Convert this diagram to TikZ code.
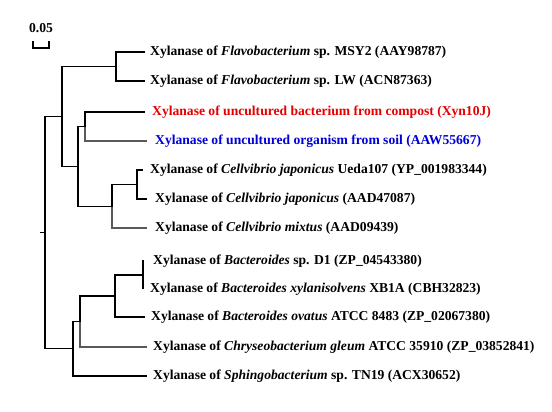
\documentclass[tikz,border=0pt]{standalone}
\usepackage{fontspec}
\setmainfont{Liberation Serif}
\usepackage{tikz}
\usetikzlibrary{calc}
\usetikzlibrary{positioning}
\tikzstyle{leaf} = [anchor=west, inner sep=0pt, font=\fontsize{13.6}{16}\selectfont\bfseries]
\tikzstyle{branch} = [draw, line width=1.3pt]
\tikzstyle{faint} = [draw, line width=1.3pt, black!65]
\tikzstyle{inner} = [coordinate]

\begin{document}
\begin{tikzpicture}[x=1pt, y=-1pt]
      \useasboundingbox (0,0) rectangle (552,412);

      \node [leaf] (msy) at (150,52) {Xylanase of \textit{Flavobacterium} sp. MSY2 (AAY98787)};
      \node [leaf] (lw) at (150,81) {Xylanase of \textit{Flavobacterium} sp. LW (ACN87363)};
      \node [leaf, red!90!black] (compost) at (152,112) {Xylanase of uncultured bacterium from compost (Xyn10J)};
      \node [leaf, blue!85!black] (soil) at (155,141) {Xylanase of uncultured organism from soil (AAW55667)};
      \node [leaf] (ueda) at (150,170) {Xylanase of \textit{Cellvibrio japonicus} Ueda107 (YP\_001983344)};
      \node [leaf] (japon) at (155,199) {Xylanase of \textit{Cellvibrio japonicus} (AAD47087)};
      \node [leaf] (mixtus) at (155,228) {Xylanase of \textit{Cellvibrio mixtus} (AAD09439)};
      \node [leaf] (bactd) at (153,261) {Xylanase of \textit{Bacteroides} sp. D1 (ZP\_04543380)};
      \node [leaf] (xylan) at (150,289) {Xylanase of \textit{Bacteroides xylanisolvens} XB1A (CBH32823)};
      \node [leaf] (ovatus) at (151,317) {Xylanase of \textit{Bacteroides ovatus} ATCC 8483 (ZP\_02067380)};
      \node [leaf] (gleum) at (153,347) {Xylanase of \textit{Chryseobacterium gleum} ATCC 35910 (ZP\_03852841)};
      \node [leaf] (sphingo) at (153,376) {Xylanase of \textit{Sphingobacterium} sp. TN19 (ACX30652)};

      \node [inner] (flavo) at (116,66.5) {};
      \node [inner] (uncult) at (85,126.5) {};
      \node [inner] (cjap) at (137,184.5) {};
      \node [inner] (cellv) at (112,206.5) {};
      \node [inner] (mid) at (78,166.5) {};
      \node [inner] (upper) at (62,116.5) {};
      \node [inner] (bsp) at (143,275) {};
      \node [inner] (bact) at (115,296) {};
      \node [inner] (chry) at (80,321.5) {};
      \node [inner] (lower) at (73,348.5) {};
      \node [inner] (root) at (45,232.5) {};
      \node [inner, left=5pt of root] (stub) {};

      \draw [branch] (flavo) |- ($(msy.west)+(-5,0)$);
      \draw [branch] (flavo) |- ($(lw.west)+(-5,0)$);
      \draw [branch] (uncult) |- ($(compost.west)+(-7,0)$);
      \draw [faint] (uncult) |- ($(soil.west)+(-8,0)$);
      \draw [branch] (cjap) |- ($(ueda.west)+(-7,0)$);
      \draw [branch] (cjap) |- ($(japon.west)+(-8,0)$);
      \draw [branch] (cellv) |- (cjap);
      \draw [faint] (cellv) |- ($(mixtus.west)+(-8,0)$);
      \draw [branch] (mid) |- (uncult);
      \draw [branch] (mid) |- (cellv);
      \draw [branch] (upper) |- (flavo);
      \draw [branch] (upper) |- (mid);
      \draw [branch] (bsp) |- ($(bactd.west)+(-9,0)$);
      \draw [branch] (bsp) |- ($(xylan.west)+(-7,0)$);
      \draw [branch] (bact) |- (bsp);
      \draw [branch] (bact) |- ($(ovatus.west)+(-6,0)$);
      \draw [branch] (chry) |- (bact);
      \draw [faint] (chry) |- ($(gleum.west)+(-6,0)$);
      \draw [branch] (lower) |- (chry);
      \draw [branch] (lower) |- ($(sphingo.west)+(-6,0)$);
      \draw [branch] (root) |- (upper);
      \draw [branch] (root) |- (lower);
      \draw [branch] (stub) -- (root);

      \node [inner] (barl) at (33,48) {};
      \node [inner] (barr) at (49,48) {};
      \draw [branch] ($(barl)+(0,-7)$) -- (barl) -- (barr) -- ($(barr)+(0,-7)$);
      \node [font=\fontsize{13.6}{16}\selectfont\bfseries, inner sep=0pt] (scale) at (41,28) {0.05};
    \end{tikzpicture}
\end{document}
